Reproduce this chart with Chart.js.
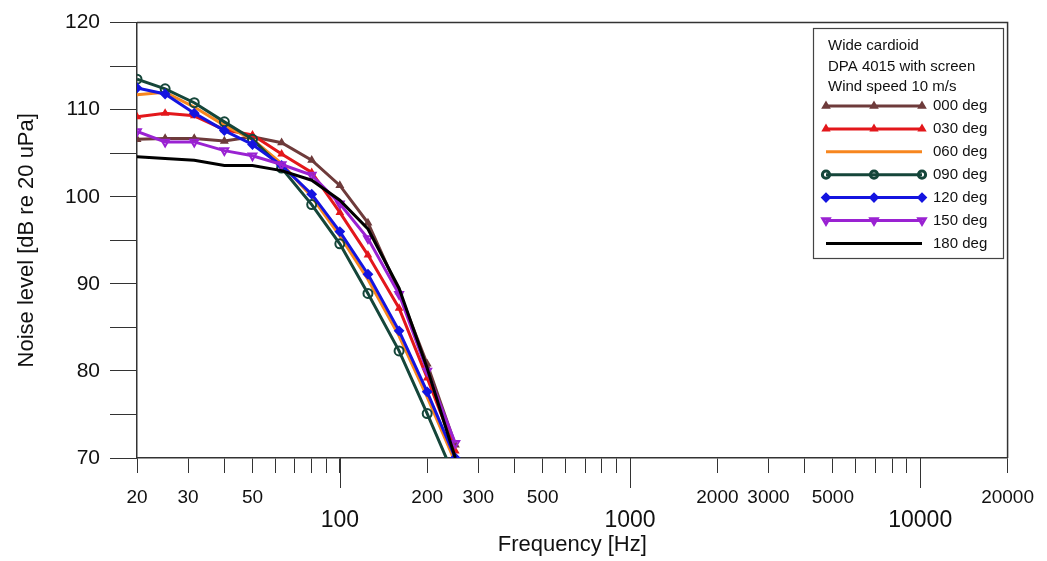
<!DOCTYPE html>
<html>
<head>
<meta charset="utf-8">
<script src="https://cdn.jsdelivr.net/npm/chart.js@4.4.0/dist/chart.umd.min.js"></script>
<style>
  html, body { margin: 0; padding: 0; background: #fff; }
  #holder { width: 1047px; height: 561px; position: relative; }
</style>
</head>
<body>
<div id="holder"><canvas id="myChart"></canvas></div>
<script>
// 1/3 octave band centres (Hz)
const freqs = [20, 25, 31.5, 40, 50, 63, 80, 100, 125, 160, 200, 250];

// noise level per wind direction, dB re 20 uPa
const deg000 = [106.6, 106.7, 106.7, 106.4, 106.9, 106.2, 104.2, 101.3, 97.0, 89.1, 80.8, 71.5];
const deg030 = [109.2, 109.6, 109.3, 107.7, 107.1, 104.9, 102.8, 98.2, 93.3, 87.2, 79.2, 70.8];
const deg060 = [111.7, 112.0, 110.3, 108.2, 106.6, 103.8, 100.0, 95.5, 90.5, 84.0, 77.0, 69.5];
const deg090 = [113.5, 112.4, 110.8, 108.6, 106.6, 103.3, 99.1, 94.6, 88.9, 82.3, 75.1, 67.6];
const deg120 = [112.5, 111.8, 109.6, 107.6, 106.0, 103.6, 100.3, 96.0, 91.1, 84.6, 77.6, 70.0];
const deg150 = [107.5, 106.3, 106.3, 105.3, 104.7, 103.7, 102.5, 99.2, 95.2, 88.8, 80.0, 71.7];
const deg180 = [104.6, 104.4, 104.2, 103.6, 103.6, 103.0, 101.9, 99.6, 96.3, 89.5, 80.3, 70.0];

const seriesNames = ['000 deg', '030 deg', '060 deg', '090 deg', '120 deg', '150 deg', '180 deg'];
const legendHeader = ['Wide cardioid', 'DPA 4015 with screen', 'Wind speed 10 m/s'];

// x axis ticks
const xTicks = [20, 30, 40, 50, 60, 70, 80, 90,
                100, 200, 300, 400, 500, 600, 700, 800, 900,
                1000, 2000, 3000, 4000, 5000, 6000, 7000, 8000, 9000,
                10000, 20000];
const xSmallLabels = [20, 30, 50, 200, 300, 500, 2000, 3000, 5000, 20000];
const xBigLabels = [100, 1000, 10000];

const FONT = "'Liberation Sans', Arial, Helvetica, sans-serif";
const AXIS = '#333333';

const styles = [
    { color: '#6e3b3b', pointStyle: 'triangle', radius: 3.2, fill: true, rotation: 0 },
    { color: '#e3171b', pointStyle: 'triangle', radius: 3, fill: true, rotation: 0 },
    { color: '#f7861f', pointStyle: false, radius: 0, fill: true, rotation: 0 },
    { color: '#15463a', pointStyle: 'circle', radius: 4.5, fill: false, rotation: 0 },
    { color: '#1414e0', pointStyle: 'rectRot', radius: 4, fill: true, rotation: 0 },
    { color: '#9a22d2', pointStyle: 'triangle', radius: 4.5, fill: false, rotation: 180 },
    { color: '#000000', pointStyle: false, radius: 0, fill: true, rotation: 0 }
];

const allSeries = [deg000, deg030, deg060, deg090, deg120, deg150, deg180];

const datasets = allSeries.map((vals, i) => {
    const s = styles[i];
    return {
        label: seriesNames[i],
        data: vals.map((v, k) => ({ x: freqs[k], y: v })),
        borderColor: s.color,
        backgroundColor: s.color,
        borderWidth: 3,
        pointStyle: s.pointStyle,
        pointRadius: s.radius,
        pointRotation: s.rotation,
        pointBorderWidth: 2,
        pointBorderColor: s.color,
        pointBackgroundColor: s.fill ? s.color : 'rgba(0,0,0,0)',
        tension: 0,
        order: 6 - i
    };
});

// frame on top/right + long decade ticks
const framePlugin = {
    id: 'frame',
    afterDraw(chart) {
        const { ctx, chartArea: a } = chart;
        const xs = chart.scales.x;
        ctx.save();
        ctx.strokeStyle = AXIS;
        ctx.lineWidth = 1.5;
        ctx.beginPath();
        ctx.moveTo(a.left, a.top);
        ctx.lineTo(a.right, a.top);
        ctx.lineTo(a.right, a.bottom);
        ctx.stroke();
        ctx.lineWidth = 1;
        ctx.beginPath();
        xBigLabels.forEach(v => {
            const px = Math.round(xs.getPixelForValue(v)) + 0.5;
            ctx.moveTo(px, a.bottom);
            ctx.lineTo(px, a.bottom + 30);
        });
        ctx.stroke();
        ctx.restore();
    }
};

// boxed legend with header lines
const legendPlugin = {
    id: 'boxLegend',
    afterDraw(chart) {
        const ctx = chart.ctx;
        const bx = 813, by = 28, bw = 190, bh = 230;
        ctx.save();
        ctx.fillStyle = '#ffffff';
        ctx.fillRect(bx, by, bw, bh);
        ctx.strokeStyle = '#444';
        ctx.lineWidth = 1.2;
        ctx.strokeRect(bx + 0.5, by + 0.5, bw, bh);
        ctx.fillStyle = '#111';
        ctx.font = '15px ' + FONT;
        ctx.textBaseline = 'middle';
        ctx.textAlign = 'left';
        legendHeader.forEach((t, i) => ctx.fillText(t, 828, 46 + i * 20.5));
        seriesNames.forEach((name, i) => {
            const y = 106 + i * 22.9;
            const s = styles[i];
            ctx.strokeStyle = s.color;
            ctx.lineWidth = 3;
            ctx.beginPath();
            ctx.moveTo(826, y);
            ctx.lineTo(922, y);
            ctx.stroke();
            if (s.pointStyle) {
                [826, 874, 922].forEach(px => {
                    ctx.fillStyle = s.fill ? s.color : 'rgba(0,0,0,0)';
                    ctx.strokeStyle = s.color;
                    Chart.helpers.drawPoint(ctx, {
                        pointStyle: s.pointStyle,
                        radius: s.radius * 0.8,
                        rotation: s.rotation,
                        borderWidth: 2
                    }, px, y);
                });
            }
            ctx.fillStyle = '#111';
            ctx.font = '15px ' + FONT;
            ctx.fillText(name, 933, y);
        });
        ctx.restore();
    }
};

const ctx = document.getElementById('myChart').getContext('2d');
const myChart = new Chart(ctx, {
    type: 'line',
    data: { datasets: datasets },
    plugins: [framePlugin, legendPlugin],
    options: {
        responsive: true,
        maintainAspectRatio: false,
        animation: false,
        layout: { padding: { top: 19, right: 38, left: 0, bottom: 0 } },
        plugins: { legend: { display: false }, tooltip: { enabled: false } },
        scales: {
            x: {
                type: 'logarithmic',
                min: 20,
                max: 20000,
                afterBuildTicks: (scale) => { scale.ticks = xTicks.map(v => ({ value: v })); },
                afterFit: (scale) => { scale.height = 103; },
                border: { display: true, color: AXIS, width: 1.5 },
                grid: { drawOnChartArea: false, drawTicks: true, tickLength: 15, tickColor: AXIS, tickWidth: 1 },
                ticks: {
                    autoSkip: false,
                    maxRotation: 0,
                    minRotation: 0,
                    padding: 13,
                    color: '#111',
                    font: (c) => (c.tick && xBigLabels.includes(c.tick.value))
                        ? { family: FONT, size: 23, lineHeight: 1.0 }
                        : { family: FONT, size: 19, lineHeight: 1.2 },
                    callback: (value) => {
                        if (xBigLabels.includes(value)) return ['', String(value)];
                        if (xSmallLabels.includes(value)) return String(value);
                        return '';
                    }
                },
                title: {
                    display: true,
                    text: 'Frequency [Hz]',
                    color: '#111',
                    font: { family: FONT, size: 22 },
                    padding: { top: 0, bottom: 3 }
                }
            },
            y: {
                min: 70,
                max: 120,
                afterFit: (scale) => { scale.width = 137; },
                border: { display: true, color: AXIS, width: 1.5 },
                grid: { drawOnChartArea: false, drawTicks: true, tickLength: 27, tickColor: AXIS, tickWidth: 1 },
                ticks: {
                    stepSize: 5,
                    padding: 10,
                    color: '#111',
                    font: { family: FONT, size: 21 },
                    callback: (v) => (v % 10 === 0 ? String(v) : '')
                },
                title: {
                    display: true,
                    text: 'Noise level [dB re 20 uPa]',
                    color: '#111',
                    font: { family: FONT, size: 22 },
                    padding: { top: 14, bottom: 0 }
                }
            }
        }
    }
});
</script>
</body>
</html>
